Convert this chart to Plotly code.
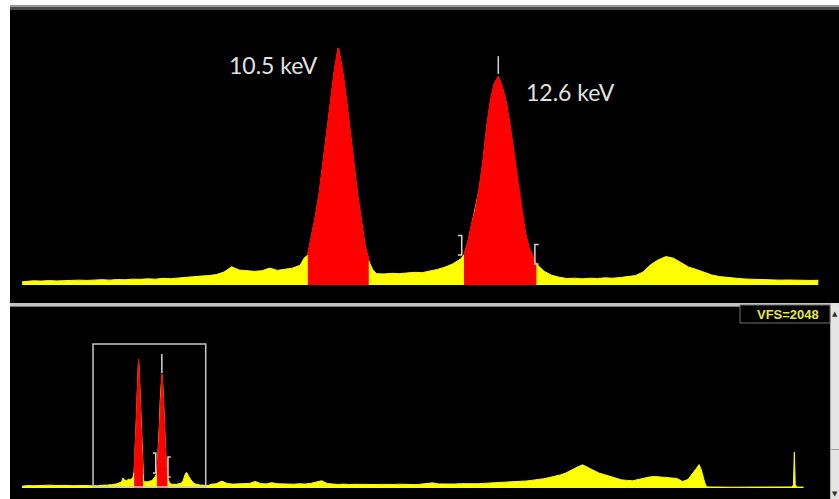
import numpy as np
import plotly.graph_objects as go

W, H = 839, 499

# ---------------- data (energy in keV, counts per channel) ----------------
energy_low = np.round(np.arange(0.0, 6.001, 0.5), 3)
counts_low = [20, 28, 25, 30, 27, 32, 28, 33, 30, 26, 31, 29, 27]

energy_box = np.round(np.concatenate([
    np.array([6.35]),
    np.arange(6.4, 10.001, 0.1),
    np.arange(10.05, 10.951, 0.05),
    np.arange(11.0, 12.101, 0.1),
    np.arange(12.15, 13.101, 0.05),
    np.arange(13.2, 16.801, 0.1)]), 3)
counts_box = [
    # 6.35 .. 10.0
    20, 23, 26, 24, 27, 25, 28, 27, 30, 28, 31, 33, 30, 34, 32, 36, 35, 38, 36, 41,
    39, 44, 47, 50, 55, 58, 64, 80, 112, 92, 86, 84, 88, 104, 90, 96, 104, 122,
    # 10.05 .. 10.95
    165, 185, 300, 420, 560, 745, 930, 1130, 1320, 1460, 1330, 1160, 960, 750, 560,
    400, 240, 150, 95,
    # 11.0 .. 12.1
    70, 68, 72, 70, 74, 78, 76, 84, 96, 110, 130, 158,
    # 12.15 .. 13.10
    185, 260, 370, 460, 590, 760, 975, 1140, 1240, 1283, 1220, 1130, 990, 820, 640,
    470, 330, 230, 175, 130,
    # 13.2 .. 16.8
    85, 60, 48, 40, 42, 38, 42, 40, 44, 42, 46, 50, 58, 80, 125, 155, 175, 165, 135,
    110, 96, 80, 62, 52, 46, 42, 38, 36, 34, 32, 33, 30, 31, 29, 30, 28, 29]

energy_high = np.round(np.arange(17.0, 60.001, 0.5), 3)
counts_high = [
    42, 48, 78, 50, 44, 47, 43, 52, 74, 50,
    46, 60, 48, 44, 47, 43, 48, 45, 52, 70,
    82, 50, 42, 40, 44, 38, 42, 40, 37, 42,
    39, 41, 38, 40, 43, 39, 41, 38, 44, 48,
    58, 46, 44, 47, 45, 49, 46, 50, 48, 52,
    55, 58, 62, 60, 68, 72, 70, 80, 88, 95,
    105, 118, 130, 148, 170, 205, 235, 262, 232, 205,
    168, 150, 128, 108, 92, 86, 82, 95, 112, 124,
    130, 126, 120, 114, 108, 74, 96]

energy_tail = [60.25, 60.5, 60.75, 61.0, 61.2, 61.4, 61.55, 61.7, 62.0, 63.0, 64.0,
               65.0, 66.0, 67.0, 68.0, 69.0, 69.4, 69.5, 69.58, 69.66, 69.8, 70.0, 70.4]
counts_tail = [140, 175, 220, 265, 205, 110, 45, 12, 10, 10, 9,
               10, 10, 9, 10, 10, 12, 40, 404, 40, 12, 10, 10]

roi_1 = (10.10, 10.90)      # 10.5 keV region of interest
roi_2 = (12.15, 13.10)      # 12.6 keV region of interest (selected)
marker_kev = 12.6
zoom_window = (6.35, 16.8)  # range shown in the expanded (upper) view
box_window = (6.4, 16.55)
peak_labels = ["10.5 keV", "12.6 keV"]
vfs_label = "VFS=2048"
vfs_full_scale = 2048

assert len(energy_low) == len(counts_low)
assert len(energy_box) == len(counts_box)
assert len(energy_high) == len(counts_high)
assert len(energy_tail) == len(counts_tail)

energy = np.concatenate([energy_low, energy_box, energy_high, np.array(energy_tail)])
counts = np.concatenate([counts_low, counts_box, counts_high, counts_tail]).astype(float)


def sel(lo, hi):
    m = (energy >= lo - 1e-9) & (energy <= hi + 1e-9)
    return energy[m], counts[m]


def pxx(p):
    return p / W


def pxy(p):
    return 1 - p / H


YELLOW = "#ffff00"
RED = "#ff0000"

fig = go.Figure()

# ---- upper, expanded view ----
ex, cy = sel(*zoom_window)
fig.add_trace(go.Scatter(x=ex, y=cy, mode="lines", fill="tozeroy", fillcolor=YELLOW,
                         line=dict(color=YELLOW, width=1), xaxis="x", yaxis="y",
                         hoverinfo="skip"))
for lo, hi in (roi_1, roi_2):
    rx, ry = sel(lo, hi)
    fig.add_trace(go.Scatter(x=rx, y=ry, mode="lines", fill="tozeroy", fillcolor=RED,
                             line=dict(color=RED, width=1.5), xaxis="x", yaxis="y",
                             hoverinfo="skip"))

# ---- lower, full spectrum ----
fig.add_trace(go.Scatter(x=energy, y=counts, mode="lines", fill="tozeroy", fillcolor=YELLOW,
                         line=dict(color=YELLOW, width=1), xaxis="x2", yaxis="y2",
                         hoverinfo="skip"))
for lo, hi in (roi_1, roi_2):
    rx, ry = sel(lo, hi)
    fig.add_trace(go.Scatter(x=rx, y=ry, mode="lines", fill="tozeroy", fillcolor=RED,
                             line=dict(color=RED, width=1), xaxis="x2", yaxis="y2",
                             hoverinfo="skip"))

# axis geometry (pixel-based)
top_ppk, top_ref_px = 76.19, 338.3           # px per keV, pixel of 10.5 keV
top_range = [10.5 + (10 - top_ref_px) / top_ppk, 10.5 + (839 - top_ref_px) / top_ppk]
bot_ppk, bot_zero_px = 11.1, 22.0
bot_range = [(10 - bot_zero_px) / bot_ppk, (830 - bot_zero_px) / bot_ppk]
top_ymax = 1694

shapes = []


def prect(x0, y0, x1, y1, color, layer="below"):
    shapes.append(dict(type="rect", xref="paper", yref="paper", x0=pxx(x0), x1=pxx(x1),
                       y0=pxy(y1), y1=pxy(y0), fillcolor=color, line=dict(width=0),
                       layer=layer))


# panel backgrounds & frame
prect(10, 9, 839, 303, "#000000")
prect(10, 5, 839, 7, "#9a9a9a")
prect(10, 7, 839, 10, "#4a4a4a")
prect(10, 307, 830, 499, "#000000")
prect(0, 303, 830, 306, "#c4c4c4", layer="above")
prect(0, 306, 830, 307, "#7a7a7a", layer="above")
prect(0, 0, 10, 499, "#ffffff", layer="above")
# scrollbar
prect(830, 303, 839, 499, "#e4e4e4", layer="above")
prect(830, 449, 839, 450, "#9a9a9a", layer="above")
prect(830, 303, 831, 499, "#b0b0b0", layer="above")
# VFS box
shapes.append(dict(type="rect", xref="paper", yref="paper", x0=pxx(740), x1=pxx(830),
                   y0=pxy(323), y1=pxy(305), fillcolor="#000000",
                   line=dict(color="#707070", width=1), layer="above"))

MARK = "#d4d4d4"


def vline(xr, yr, x, y0, y1, color=MARK, width=1.5):
    shapes.append(dict(type="line", xref=xr, yref=yr, x0=x, x1=x, y0=y0, y1=y1,
                       line=dict(color=color, width=width), layer="above"))


def bracket(xr, yr, x, y0, y1, hook):
    shapes.append(dict(type="path", xref=xr, yref=yr,
                       path=f"M {x + hook},{y1} L {x},{y1} L {x},{y0} L {x + hook},{y0}",
                       line=dict(color=MARK, width=1.5), layer="above"))


# upper markers
vline("x", "y", marker_kev, 1300, 1410)
bracket("x", "y", roi_2[0] - 0.03, 185, 305, -0.05)
bracket("x", "y", roi_2[1] - 0.02, 130, 250, 0.05)

# lower markers
shapes.append(dict(type="rect", xref="x2", yref="y2", x0=box_window[0], x1=box_window[1],
                   y0=11, y1=1629, line=dict(color="#c8c8c8", width=1.5), layer="above"))
vline("x2", "y2", marker_kev, 1300, 1516)
bracket("x2", "y2", roi_2[0] - 0.1, 170, 396, -0.25)
bracket("x2", "y2", roi_2[1] + 0.05, 124, 350, 0.25)

annotations = [
    dict(x=9.643, y=1355, xref="x", yref="y", text=peak_labels[0], showarrow=False,
         font=dict(family="Lato, Calibri, sans-serif", size=23, color="#e2e2e2"),
         xanchor="center", yanchor="middle"),
    dict(x=13.554, y=1189, xref="x", yref="y", text=peak_labels[1], showarrow=False,
         font=dict(family="Lato, Calibri, sans-serif", size=23, color="#e2e2e2"),
         xanchor="center", yanchor="middle"),
    dict(x=pxx(788), y=pxy(314.5), xref="paper", yref="paper", text=vfs_label,
         showarrow=False, font=dict(family="Liberation Sans, Arial, sans-serif", size=13,
                                    color="#e8e840", weight="bold"),
         xanchor="center", yanchor="middle"),
    dict(x=pxx(835), y=pxy(314), xref="paper", yref="paper", text="▲", showarrow=False,
         font=dict(family="DejaVu Sans", size=7, color="#303030"),
         xanchor="center", yanchor="middle"),
    dict(x=pxx(835), y=pxy(494), xref="paper", yref="paper", text="▼", showarrow=False,
         font=dict(family="DejaVu Sans", size=7, color="#303030"),
         xanchor="center", yanchor="middle"),
]

fig.update_layout(
    width=W, height=H, margin=dict(l=0, r=0, t=0, b=0),
    paper_bgcolor="#ffffff", plot_bgcolor="rgba(0,0,0,0)",
    showlegend=False,
    xaxis=dict(domain=[pxx(10), pxx(839)], range=top_range, visible=False, fixedrange=True,
               anchor="y"),
    yaxis=dict(domain=[pxy(285), pxy(10)], range=[0, top_ymax], visible=False,
               fixedrange=True, anchor="x"),
    xaxis2=dict(domain=[pxx(10), pxx(830)], range=bot_range, visible=False, fixedrange=True,
                anchor="y2"),
    yaxis2=dict(domain=[pxy(488), pxy(307)], range=[0, vfs_full_scale], visible=False,
                fixedrange=True, anchor="x2"),
    shapes=shapes, annotations=annotations,
)

fig.write_html("out.html", config=dict(displayModeBar=False))
